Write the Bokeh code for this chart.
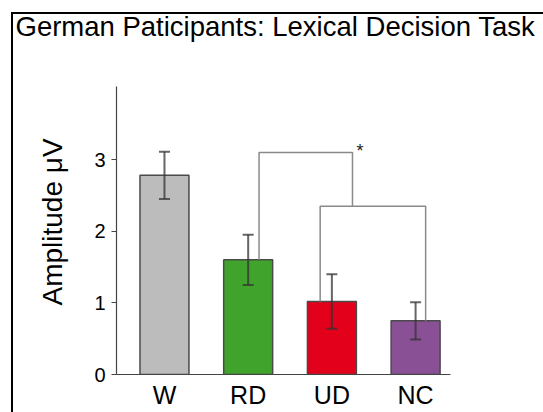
from bokeh.plotting import figure
from bokeh.models import (ColumnDataSource, FixedTicker, Range1d, Whisker, TeeHead, Title)
from bokeh.core.properties import value
from bokeh.embed import file_html
from bokeh.resources import INLINE

# Mean ERP amplitudes (µV) with error bars per condition
conditions = ["W", "RD", "UD", "NC"]
amplitude = [2.78, 1.60, 1.02, 0.75]
error = [0.33, 0.35, 0.38, 0.26]
bar_colors = ["#bcbcbc", "#40a42c", "#e2001a", "#8a5096"]
y_ticks = [0, 1, 2, 3]

FONT = "Liberation Sans"

xpos = list(range(len(conditions)))
source = ColumnDataSource(dict(
    x=xpos,
    top=amplitude,
    lower=[a - e for a, e in zip(amplitude, error)],
    upper=[a + e for a, e in zip(amplitude, error)],
    color=bar_colors,
))

p = figure(width=543, height=412, output_backend="svg", toolbar_location=None,
           x_range=Range1d(-0.573, 3.417), y_range=Range1d(0, 4.02),
           min_border_left=116, min_border_right=93,
           min_border_top=86, min_border_bottom=38)
p.grid.visible = False
p.outline_line_color = None
# transparent canvas so the page background (white with an L-shaped frame) shows;
# each frame layer's tile runs from the frame corner to the page edge
p.background_fill_color = None
p.border_fill_color = None
p.styles = {
    "background": (
        "linear-gradient(to right, #000 2px, transparent 2px) 11px 12px / 532px 400px no-repeat, "
        "linear-gradient(#000 2px, transparent 2px) 11px 12px / 532px 400px no-repeat, "
        "#ffffff"
    ),
}

# spacer between the heading and the plot area
p.add_layout(Title(text=" ", text_font_size="1px", standoff=42), "above")

# heading
p.title.text = "German Paticipants: Lexical Decision Task"
p.title.text_font = FONT
p.title.text_font_size = "27.5px"
p.title.text_font_style = "normal"
p.title.text_color = "black"
p.title.align = "left"
p.title.offset = -101
p.title.standoff = 0

# axes
p.yaxis.ticker = FixedTicker(ticks=y_ticks)
p.yaxis.minor_tick_line_color = None
p.yaxis.major_tick_in = 0
p.yaxis.major_tick_out = 5
p.yaxis.major_tick_line_color = "#444444"
p.yaxis.axis_line_color = "#444444"
p.yaxis.axis_line_width = 1.2
p.yaxis.major_label_text_font = FONT
p.yaxis.major_label_text_font_size = "20px"
p.yaxis.major_label_text_color = "black"
p.yaxis.major_label_standoff = 6

# y axis title, set a little above the vertical centre of the axis
p.add_layout(Title(text="Amplitude μV", text_font=FONT, text_font_size="28px",
                   text_font_style="normal", text_color="black",
                   align="left", offset=69, standoff=48), "left")

p.xaxis.ticker = FixedTicker(ticks=xpos)
p.xaxis.major_label_overrides = {i: c for i, c in zip(xpos, conditions)}
p.xaxis.minor_tick_line_color = None
p.xaxis.major_tick_line_color = None
p.xaxis.major_tick_out = 0
p.xaxis.major_tick_in = 0
p.xaxis.axis_line_color = "#444444"
p.xaxis.axis_line_width = 1.2
p.xaxis.major_label_text_font = FONT
p.xaxis.major_label_text_font_size = "25px"
p.xaxis.major_label_text_color = "black"
p.xaxis.major_label_standoff = 6

# bars
p.vbar(x="x", top="top", bottom=0, width=0.585, fill_color="color",
       line_color="#4a4a4a", line_width=1.5, source=source)

# error bars
whisk = Whisker(base="x", lower="lower", upper="upper", source=source,
                line_color="#333333", line_alpha=0.75, line_width=2,
                upper_head=TeeHead(size=11, line_color="#333333", line_alpha=0.75, line_width=2),
                lower_head=TeeHead(size=11, line_color="#333333", line_alpha=0.75, line_width=2))
whisk.level = "annotation"
p.add_layout(whisk)

# significance brackets: RD vs (UD, NC)
upper_level = 3.10
lower_level = 2.35
rd, ud, nc = 1, 2, 3
join_x = 2.246
bracket_xs = [
    [rd + 0.13, rd + 0.13, join_x, join_x],
    [ud - 0.14, ud - 0.14, nc + 0.12, nc + 0.12],
]
bracket_ys = [
    [amplitude[rd], upper_level, upper_level, lower_level],
    [amplitude[ud], lower_level, lower_level, amplitude[nc]],
]
p.multi_line(xs=bracket_xs, ys=bracket_ys, line_color="#8a8a8a", line_width=1.5)
p.text(x=[join_x + 0.09], y=[upper_level + 0.02], text=["*"], text_font=value(FONT),
       text_font_size="18px", text_align="center", text_baseline="middle",
       text_color="#222222")

open("out.html", "w").write(file_html(p, INLINE))
